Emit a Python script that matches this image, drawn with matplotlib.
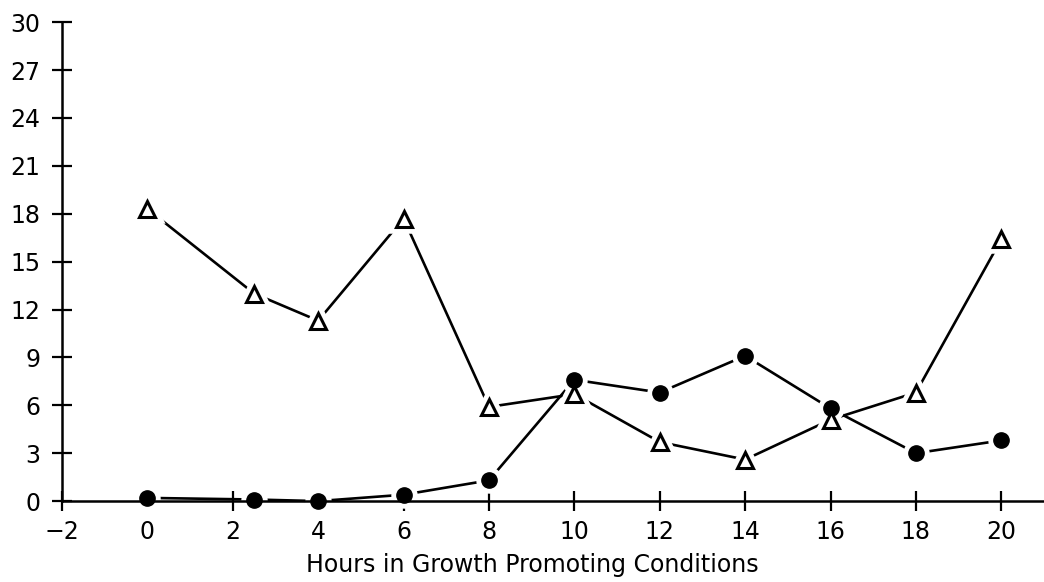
import numpy as np
import matplotlib
matplotlib.use("Agg")
from matplotlib import pyplot as plt

plt.rcParams['font.family'] = ['DejaVu Sans']

# Values
hours = [0, 2.5, 4, 6, 8, 10, 12, 14, 16, 18, 20]
triangles = [18.3, 13.0, 11.3, 17.7, 5.9, 6.7, 3.7, 2.6, 5.1, 6.8, 16.4]
circles = [0.2, 0.1, 0.0, 0.4, 1.3, 7.6, 6.8, 9.1, 5.8, 3.0, 3.8]

x_ticks = [-2, 0, 2, 4, 6, 8, 10, 12, 14, 16, 18, 20]
y_ticks = [0, 3, 6, 9, 12, 15, 18, 21, 24, 27, 30]

fig = plt.figure(figsize=(10.44, 5.82), dpi=100)
ax = fig.add_axes([0.0594, 0.139, 0.9406, 0.823])

lw = 1.9
# lines first, then a white halo (below the axis lines) so lines stop short of the markers
ax.plot(hours, triangles, color='black', linewidth=lw, zorder=2, clip_on=False)
ax.plot(hours, circles, color='black', linewidth=lw, zorder=2, clip_on=False)
ax.plot(hours, triangles, linestyle='none', marker='^', markersize=12,
        markerfacecolor='white', markeredgecolor='white', markeredgewidth=9,
        zorder=2.2, clip_on=False)
ax.plot(hours, circles, linestyle='none', marker='o', markersize=11,
        markerfacecolor='white', markeredgecolor='white', markeredgewidth=8,
        zorder=2.2, clip_on=False)
ax.plot(hours, circles, linestyle='none', marker='o', markersize=11,
        markerfacecolor='black', markeredgecolor='black', markeredgewidth=1,
        zorder=4, clip_on=False)
ax.plot(hours, triangles, linestyle='none', marker='^', markersize=12,
        markerfacecolor='white', markeredgecolor='black', markeredgewidth=2.2,
        zorder=5, clip_on=False)

ax.set_xlim(-2, 21)
ax.set_ylim(0, 30)
ax.set_xticks(x_ticks)
ax.set_yticks(y_ticks)
ax.set_xticklabels([str(t).replace('-', '\u2212') for t in x_ticks])

for side in ['top', 'right']:
    ax.spines[side].set_visible(False)
for side in ['left', 'bottom']:
    ax.spines[side].set_linewidth(1.8)

ax.tick_params(direction='inout', length=15, width=1.6, labelsize=17,
               colors='black')
ax.tick_params(axis='y', pad=8)
ax.tick_params(axis='x', pad=6)

ax.set_xlabel("Hours in Growth Promoting Conditions", fontsize=17)
ax.xaxis.set_label_coords(0.4786, -0.108)

fig.savefig("out.png", dpi=100)
